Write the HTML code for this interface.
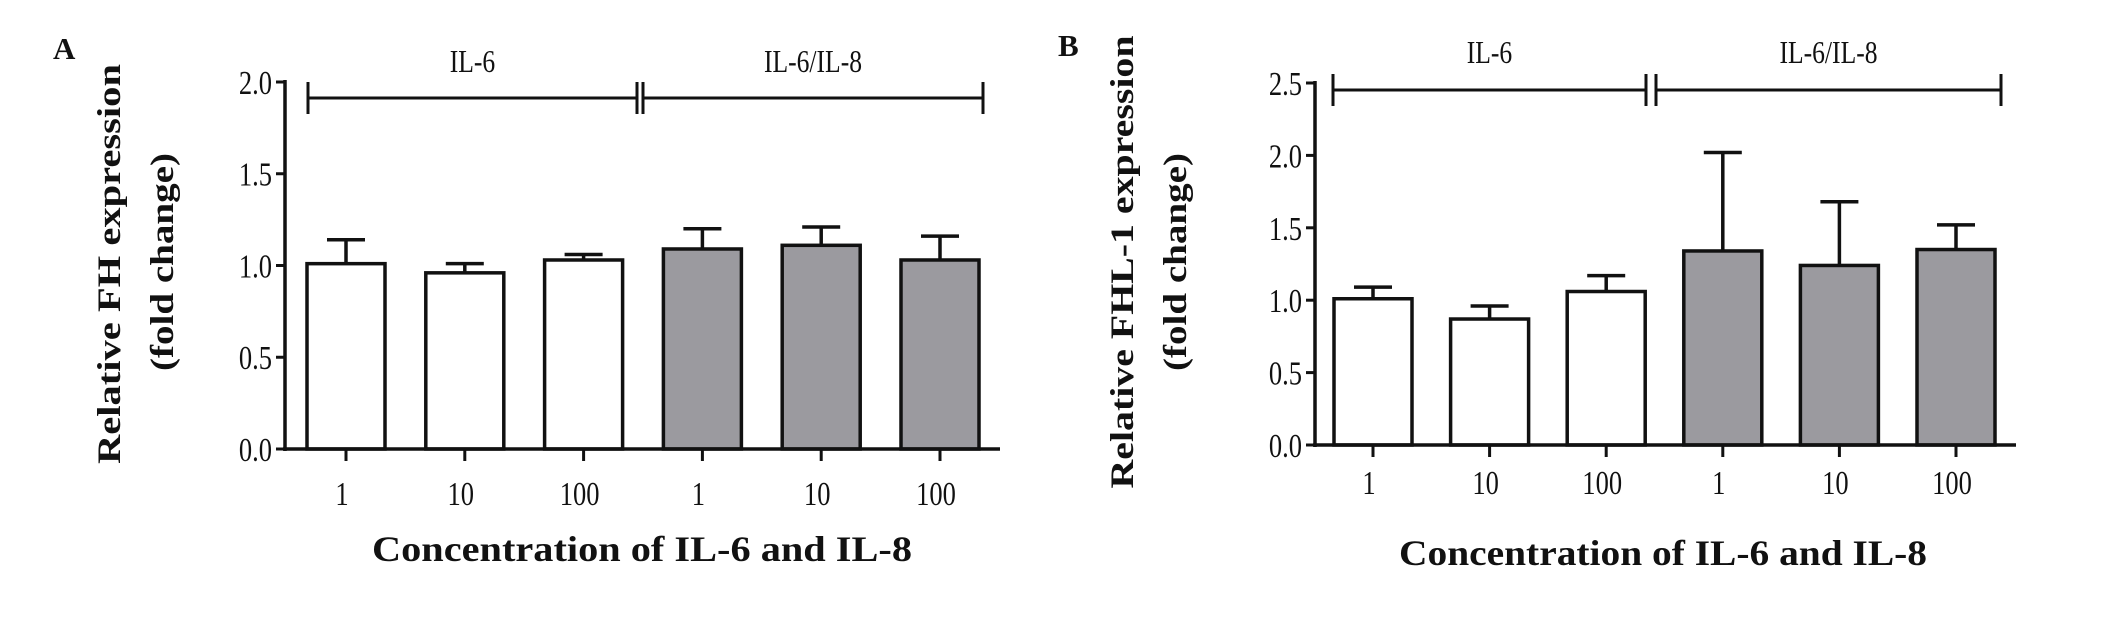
<!DOCTYPE html>
<html><head><meta charset="utf-8"><style>
html,body{margin:0;padding:0;background:#fff;}
svg{display:block;}
text{font-family:"Liberation Serif",serif;fill:#111;}
</style></head><body>
<svg id="chart" width="2126" height="628" viewBox="0 0 2126 628" xmlns="http://www.w3.org/2000/svg"></svg>
<script>
const categories = ["1","10","100","1","10","100"];
const groupLabels = ["IL-6","IL-6/IL-8"];
const fhValues = [1.01,0.96,1.03,1.09,1.11,1.03];
const fhErrors = [0.13,0.05,0.03,0.11,0.10,0.13];
const fhl1Values = [1.01,0.87,1.06,1.34,1.24,1.35];
const fhl1Errors = [0.08,0.09,0.11,0.68,0.44,0.17];
const fhTicks = [0,0.5,1.0,1.5,2.0];
const fhl1Ticks = [0,0.5,1.0,1.5,2.0,2.5];

const svg = document.getElementById('chart');
const NS = 'http://www.w3.org/2000/svg';
function mk(tag, attrs, parent){const e=document.createElementNS(NS,tag);for(const k in attrs)e.setAttribute(k,attrs[k]);(parent||svg).appendChild(e);return e;}

function panel(cfg){
  const g = mk('g',{});
  
  
  const yScale = v => cfg.y0 - (v/cfg.yMax)*(cfg.y0-cfg.yTop);
  const xScale = i => cfg.xFirst + i*cfg.step;
  const ya = mk('line',{x1:cfg.ax,y1:cfg.yTop-2,x2:cfg.ax,y2:cfg.y0+2,stroke:'#111','stroke-width':3.5},g);
  
  
  cfg.ticks.forEach(t=>{
    const y=yScale(t);
    mk('line',{x1:cfg.ax-9,y1:y,x2:cfg.ax,y2:y,stroke:'#111','stroke-width':3},g);
    const tl=mk('text',{x:cfg.ax-13,y:y+12,'text-anchor':'end','font-size':34,transform:`translate(${cfg.ax-13},0) scale(0.78,1) translate(${-(cfg.ax-13)},0)`},g);
    tl.textContent=t.toFixed(1);
    
    
  });
  cfg.values.forEach((v,i)=>{
    const cx=xScale(i), w=78, top=yScale(v), et=yScale(v+cfg.errors[i]);
    const eb=mk('line',{x1:cx,y1:et,x2:cx,y2:top,stroke:'#111','stroke-width':3.5},g);
    
    
    mk('line',{x1:cx-19,y1:et,x2:cx+19,y2:et,stroke:'#111','stroke-width':3.5},g);
    const r=mk('rect',{x:cx-w/2,y:top,width:w,height:cfg.y0-top,fill:i<3?'#fff':'#9b9a9f',stroke:'#111','stroke-width':3.5},g);
    
    
    mk('line',{x1:cx,y1:cfg.y0,x2:cx,y2:cfg.y0+12,stroke:'#111','stroke-width':3},g);
    const xl=mk('text',{x:cx-4,y:cfg.xLabelY,'text-anchor':'middle','font-size':34,transform:`translate(${cx-4},0) scale(0.78,1) translate(${-(cx-4)},0)`},g);
    xl.textContent=categories[i];
    
    
  });
  const xa=mk('line',{x1:cfg.ax-2,y1:cfg.y0,x2:cfg.axEnd,y2:cfg.y0,stroke:'#111','stroke-width':3.5},g);
  
  
  cfg.brackets.forEach((b,k)=>{
    const bg=mk('g',{},g);
    
    
    mk('line',{x1:b[0],y1:cfg.brY,x2:b[1],y2:cfg.brY,stroke:'#111','stroke-width':3},bg);
    mk('line',{x1:b[0],y1:cfg.brY-16,x2:b[0],y2:cfg.brY+16,stroke:'#111','stroke-width':3},bg);
    mk('line',{x1:b[1],y1:cfg.brY-16,x2:b[1],y2:cfg.brY+16,stroke:'#111','stroke-width':3},bg);
    const mx=(b[0]+b[1])/2;
    const t=mk('text',{x:mx,y:cfg.brLabelY,'text-anchor':'middle','font-size':32,transform:`translate(${mx},0) scale(0.8,1) translate(${-mx},0)`},bg);
    t.textContent=groupLabels[k];
    
    
  });
  const yt=mk('text',{x:0,y:0,'text-anchor':'middle','font-size':33,'font-weight':'bold',textLength:cfg.yTitleLen,lengthAdjust:'spacingAndGlyphs',transform:`translate(${cfg.yTitleX},${cfg.yTitleCY}) rotate(-90)`},g);
  yt.textContent=cfg.yTitle;
  
  
  const yt2=mk('text',{x:0,y:0,'text-anchor':'middle','font-size':33,'font-weight':'bold',textLength:218,lengthAdjust:'spacingAndGlyphs',transform:`translate(${cfg.yTitleX+53},262) rotate(-90)`},g);
  yt2.textContent='(fold change)';
  
  
  const xt=mk('text',{x:cfg.xTitleX,y:cfg.xTitleY,'text-anchor':'middle','font-size':36,'font-weight':'bold',textLength:cfg.xTitleLen,lengthAdjust:'spacingAndGlyphs'},g);
  xt.textContent='Concentration of IL-6 and IL-8';
  
  
  const pl=mk('text',{x:cfg.letterX,y:cfg.letterY,'font-size':31,'font-weight':'bold'},g);
  pl.textContent=cfg.letter;
  
  
}

panel({name:'panel-a-fh',letter:'A',letterX:53,letterY:59,ax:285,axEnd:1000,y0:449,yTop:82,yMax:2.0,ticks:fhTicks,
  values:fhValues,errors:fhErrors,xFirst:346,step:118.8,xLabelY:505,
  brY:98,brLabelY:72,brackets:[[308,637],[643,983]],
  yTitle:'Relative FH expression',yTitleX:120,yTitleCY:264,yTitleLen:400,
  xTitleX:642,xTitleY:561,xTitleLen:540});
panel({name:'panel-b-fhl1',letter:'B',letterX:1058,letterY:56,ax:1315,axEnd:2016,y0:445,yTop:83,yMax:2.5,ticks:fhl1Ticks,
  values:fhl1Values,errors:fhl1Errors,xFirst:1373,step:116.6,xLabelY:494,
  brY:90,brLabelY:63,brackets:[[1333,1646],[1656,2001]],
  yTitle:'Relative FHL-1 expression',yTitleX:1133,yTitleCY:262,yTitleLen:453,
  xTitleX:1663,xTitleY:565,xTitleLen:528});
</script>
</body></html>
